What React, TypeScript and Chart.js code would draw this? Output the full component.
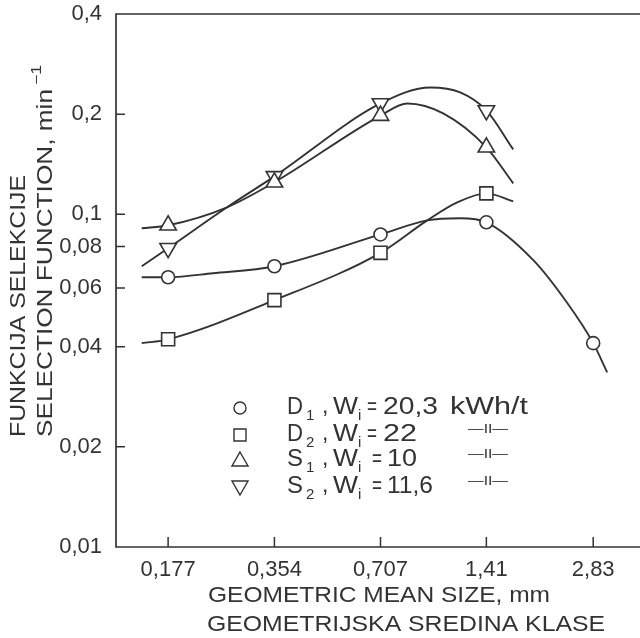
import React, { useEffect, useRef } from "react";
import { Chart, registerables } from "chart.js";

Chart.register(...registerables);

// ---------- data ----------
const xTicks = [0.177, 0.354, 0.707, 1.41, 2.83];
const xTickLabels = ["0,177", "0,354", "0,707", "1,41", "2,83"];
const yTicks = [0.01, 0.02, 0.04, 0.06, 0.08, 0.1, 0.2, 0.4];
const yTickLabels = ["0,01", "0,02", "0,04", "0,06", "0,08", "0,1", "0,2", "0,4"];

const sizes = [0.177, 0.354, 0.707, 1.41, 2.83];
const d1Values = [0.0647, 0.0698, 0.087, 0.0946, 0.041];
const d2Values = [0.0421, 0.0552, 0.0766, 0.1156];
const s1Values = [0.0927, 0.1248, 0.198, 0.159];
const s2Values = [0.0791, 0.13, 0.2154, 0.2052];

// fitted curves
const d1CurveX = [0.149, 0.177, 0.237, 0.354, 0.707, 0.959, 1.189, 1.41, 1.915, 2.39, 2.83, 3.1];
const d1CurveY = [0.0647, 0.0647, 0.0665, 0.0698, 0.087, 0.0959, 0.0973, 0.0946, 0.0728, 0.0541, 0.041, 0.0335];
const d2CurveX = [0.149, 0.177, 0.354, 0.707, 0.959, 1.166, 1.41, 1.68];
const d2CurveY = [0.041, 0.0421, 0.0552, 0.0766, 0.0959, 0.1086, 0.1156, 0.1094];
const s1CurveX = [0.149, 0.177, 0.26, 0.354, 0.707, 0.842, 1.064, 1.41, 1.68];
const s1CurveY = [0.0908, 0.0927, 0.105, 0.1248, 0.198, 0.2154, 0.2011, 0.159, 0.1239];
const s2CurveX = [0.149, 0.177, 0.26, 0.354, 0.707, 0.978, 1.189, 1.41, 1.68];
const s2CurveY = [0.0698, 0.0791, 0.105, 0.13, 0.2154, 0.2406, 0.2324, 0.2052, 0.1567];

const legendLetters = ["D", "D", "S", "S"];
const legendSubs = ["1", "2", "1", "2"];
const legendValues = ["20,3", "22", "10", "11,6"];
const legendUnits = ["kWh/t", "—II—", "—II—", "—II—"];

const yTitleOuter = "FUNKCIJA SELEKCIJE";
const yTitleInner = "SELECTION FUNCTION, min";
const yTitleSup = "−1";
const xTitle1 = "GEOMETRIC MEAN SIZE, mm";
const xTitle2 = "GEOMETRIJSKA SREDINA KLASE";

// ---------- styling ----------
const FONT = "'Liberation Sans', Arial, sans-serif";
const INK = "#333333";

const zip = (xs: number[], ys: number[]) => ys.map((y, i) => ({ x: xs[i], y }));

function fitText(ctx: CanvasRenderingContext2D, text: string, x: number, y: number, width: number) {
  const w = ctx.measureText(text).width;
  ctx.save();
  ctx.translate(x, y);
  ctx.scale(width / w, 1);
  ctx.textAlign = "left";
  ctx.fillText(text, 0, 0);
  ctx.restore();
}

function symbol(ctx: CanvasRenderingContext2D, kind: number, x: number, y: number) {
  ctx.beginPath();
  if (kind === 0) {
    ctx.arc(x, y, 6, 0, Math.PI * 2);
  } else if (kind === 1) {
    ctx.rect(x - 6, y - 6, 12, 12);
  } else if (kind === 2) {
    ctx.moveTo(x, y - 8);
    ctx.lineTo(x + 8, y + 6);
    ctx.lineTo(x - 8, y + 6);
    ctx.closePath();
  } else {
    ctx.moveTo(x, y + 8);
    ctx.lineTo(x + 8, y - 6);
    ctx.lineTo(x - 8, y - 6);
    ctx.closePath();
  }
  ctx.stroke();
}

const decorations = {
  id: "decorations",
  afterDraw(chart: any) {
    const ctx: CanvasRenderingContext2D = chart.ctx;
    const { left, right, top, bottom } = chart.chartArea;
    const xs = chart.scales.x;
    const ys = chart.scales.y;
    ctx.save();
    ctx.strokeStyle = INK;
    ctx.fillStyle = INK;
    ctx.lineWidth = 1.7;
    // frame: top, left, bottom
    ctx.beginPath();
    ctx.moveTo(right, top);
    ctx.lineTo(left, top);
    ctx.lineTo(left, bottom);
    ctx.lineTo(right, bottom);
    ctx.stroke();
    // inward ticks
    ctx.lineWidth = 1.5;
    ctx.beginPath();
    yTicks.forEach((v) => {
      if (v <= ys.min || v >= ys.max) return;
      const py = ys.getPixelForValue(v);
      ctx.moveTo(left, py);
      ctx.lineTo(left + 9, py);
    });
    xTicks.forEach((v) => {
      const px = xs.getPixelForValue(v);
      ctx.moveTo(px, bottom);
      ctx.lineTo(px, bottom - 10);
    });
    ctx.stroke();

    // legend
    const rows = [408, 435, 460, 487];
    const eqX = [367, 367, 372, 372];
    const valX = [383, 383, 387, 387];
    const valW = [55, 34, 30, 46];
    ctx.textBaseline = "middle";
    ctx.lineWidth = 1.4;
    rows.forEach((ry, i) => {
      symbol(ctx, i, 240, ry);
      ctx.font = `23px ${FONT}`;
      ctx.textAlign = "left";
      fitText(ctx, legendLetters[i], 287, ry, 16);
      ctx.fillText(",", 322, ry - 1);
      fitText(ctx, "W", 333, ry, 25);
      fitText(ctx, "=", eqX[i], ry, 10);
      fitText(ctx, legendValues[i], valX[i], ry, valW[i]);
      if (i === 0) {
        fitText(ctx, legendUnits[i], 450, ry, 78);
      } else {
        ctx.font = `12px ${FONT}`;
        fitText(ctx, legendUnits[i], 468, ry - 5, 40);
      }
      ctx.font = `15px ${FONT}`;
      ctx.fillText(legendSubs[i], 306, ry + 8);
      ctx.fillText("i", 358, ry + 8);
    });

    // axis titles
    ctx.font = `22px ${FONT}`;
    ctx.textBaseline = "middle";
    fitText(ctx, xTitle1, 208, 596, 342);
    fitText(ctx, xTitle2, 207, 625, 398);

    ctx.save();
    ctx.translate(19, 437);
    ctx.rotate(-Math.PI / 2);
    fitText(ctx, yTitleOuter, 0, 0, 262);
    ctx.restore();

    ctx.save();
    ctx.translate(46, 437);
    ctx.rotate(-Math.PI / 2);
    fitText(ctx, yTitleInner, 0, 0, 348);
    ctx.font = `14px ${FONT}`;
    fitText(ctx, yTitleSup, 352, -9, 20);
    ctx.restore();

    ctx.restore();
  },
};

export default function App() {
  const canvasRef = useRef<HTMLCanvasElement | null>(null);

  useEffect(() => {
    if (!canvasRef.current) return;
    const marker = (data: { x: number; y: number }[], style: string, radius: number, rotation = 0) => ({
      data,
      showLine: false,
      pointStyle: style,
      pointRadius: radius,
      pointHoverRadius: radius,
      pointRotation: rotation,
      pointBorderWidth: 1.6,
      pointBorderColor: INK,
      pointBackgroundColor: "#ffffff",
      order: 1,
    });
    const curve = (data: { x: number; y: number }[]) => ({
      data,
      showLine: true,
      pointRadius: 0,
      borderColor: INK,
      borderWidth: 1.9,
      cubicInterpolationMode: "monotone",
      fill: false,
      order: 2,
    });

    const chart = new Chart(canvasRef.current, {
      type: "scatter",
      data: {
        datasets: [
          marker(zip(sizes, d1Values), "circle", 6.5),
          marker(zip(sizes, d2Values), "rect", 9.2),
          marker(zip(sizes, s1Values), "triangle", 9.5),
          marker(zip(sizes, s2Values), "triangle", 9.5, 180),
          curve(zip(d1CurveX, d1CurveY)),
          curve(zip(d2CurveX, d2CurveY)),
          curve(zip(s1CurveX, s1CurveY)),
          curve(zip(s2CurveX, s2CurveY)),
        ] as any,
      },
      options: {
        responsive: false,
        animation: false,
        events: [],
        layout: { autoPadding: false, padding: { top: 14, left: 0, right: 0, bottom: 0 } },
        plugins: {
          legend: { display: false },
          tooltip: { enabled: false },
          title: { display: false },
        },
        scales: {
          x: {
            type: "logarithmic",
            min: 0.126,
            max: 3.84,
            afterFit: (s: any) => {
              s.height = 91;
              s.paddingLeft = 0;
              s.paddingRight = 0;
            },
            afterBuildTicks: (s: any) => {
              s.ticks = xTicks.map((v) => ({ value: v }));
            },
            grid: { display: false, drawTicks: false },
            border: { display: false },
            ticks: {
              autoSkip: false,
              maxRotation: 0,
              minRotation: 0,
              padding: 10,
              color: INK,
              font: { family: FONT, size: 22 },
              callback: (_v: any, i: number) => xTickLabels[i],
            },
          },
          y: {
            type: "logarithmic",
            min: 0.01,
            max: 0.4,
            afterFit: (s: any) => {
              s.width = 116;
              s.paddingTop = 0;
              s.paddingBottom = 0;
            },
            afterBuildTicks: (s: any) => {
              s.ticks = yTicks.map((v) => ({ value: v }));
            },
            grid: { display: false, drawTicks: false },
            border: { display: false },
            ticks: {
              autoSkip: false,
              padding: 14,
              color: INK,
              font: { family: FONT, size: 22 },
              callback: (_v: any, i: number) => yTickLabels[i],
            },
          },
        } as any,
      },
      plugins: [decorations],
    });
    return () => chart.destroy();
  }, []);

  return (
    <div style={{ position: "absolute", left: 0, top: 0, width: 640, height: 638, background: "#ffffff" }}>
      <canvas ref={canvasRef} width={640} height={638} style={{ display: "block", width: 640, height: 638 }} />
    </div>
  );
}
